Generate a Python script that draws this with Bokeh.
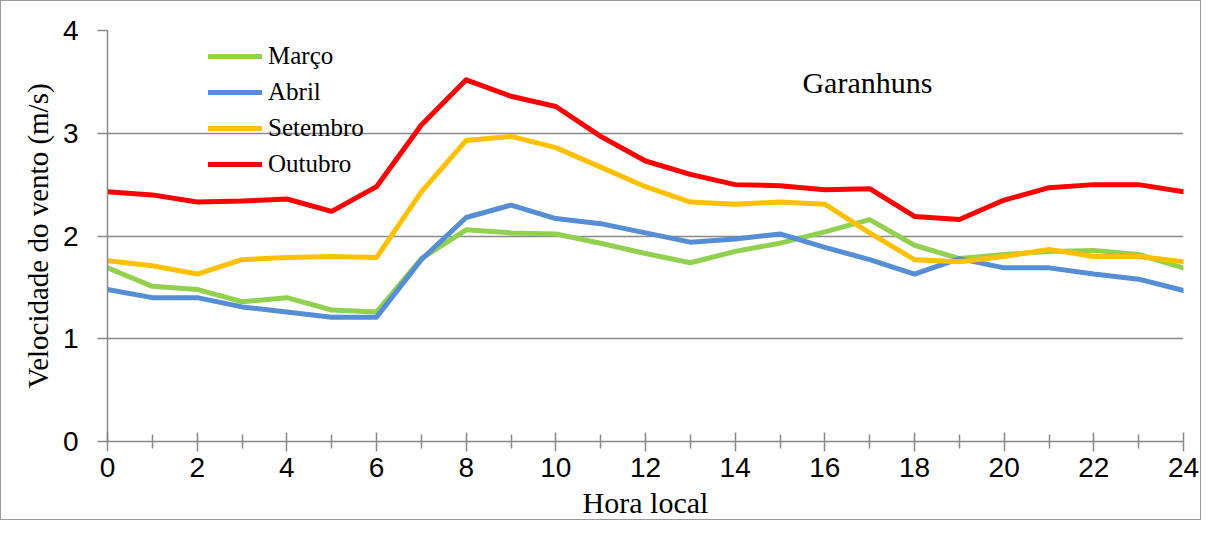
from bokeh.plotting import figure
from bokeh.models import FixedTicker, Legend, LegendItem, Label, ColumnDataSource
from bokeh.embed import file_html
from bokeh.resources import INLINE

hours = list(range(25))
marco = [1.69, 1.51, 1.48, 1.36, 1.40, 1.28, 1.26, 1.78, 2.06, 2.03, 2.02, 1.93, 1.83,
         1.74, 1.85, 1.93, 2.04, 2.16, 1.91, 1.78, 1.82, 1.85, 1.86, 1.82, 1.69]
abril = [1.48, 1.40, 1.40, 1.31, 1.26, 1.21, 1.21, 1.77, 2.18, 2.30, 2.17, 2.12, 2.03,
         1.94, 1.97, 2.02, 1.89, 1.77, 1.63, 1.78, 1.69, 1.69, 1.63, 1.58, 1.47]
setembro = [1.76, 1.71, 1.63, 1.77, 1.79, 1.80, 1.79, 2.43, 2.93, 2.97, 2.86, 2.67, 2.48,
            2.33, 2.31, 2.33, 2.31, 2.03, 1.77, 1.75, 1.80, 1.87, 1.80, 1.80, 1.75]
outubro = [2.43, 2.40, 2.33, 2.34, 2.36, 2.24, 2.48, 3.08, 3.52, 3.36, 3.26, 2.97, 2.73,
           2.60, 2.50, 2.49, 2.45, 2.46, 2.19, 2.16, 2.35, 2.47, 2.50, 2.50, 2.43]

series_names = ["Março", "Abril", "Setembro", "Outubro"]
series_values = [marco, abril, setembro, outubro]
colors = ["#92D050", "#558ED5", "#FFC000", "#FF0000"]

x_major = list(range(0, 25, 2))
x_minor = list(range(1, 24, 2))
y_ticks = [0, 1, 2, 3, 4]

station = "Garanhuns"
x_title = "Hora local"
y_title = "Velocidade do vento (m/s)"

GRAY = "#898989"
SERIF = "Liberation Serif"
SANS = "Liberation Sans"

p = figure(width=1201, height=520, output_backend="svg", toolbar_location=None,
           x_range=(0, 24), y_range=(0, 4),
           min_border_left=106, min_border_right=19, min_border_top=29, min_border_bottom=79)
p.styles = {"border": "1px solid #999999"}
p.outline_line_color = None
p.background_fill_color = "white"
p.border_fill_color = "white"

# grid
p.xgrid.grid_line_color = None
p.ygrid.grid_line_color = GRAY
p.ygrid.grid_line_width = 1.5
p.ygrid.ticker = FixedTicker(ticks=y_ticks)

# x axis
xa = p.xaxis[0]
xa.ticker = FixedTicker(ticks=x_major, minor_ticks=x_minor)
xa.axis_line_color = GRAY
xa.axis_line_width = 1.5
xa.major_tick_line_color = GRAY
xa.major_tick_line_width = 1.5
xa.minor_tick_line_color = GRAY
xa.minor_tick_line_width = 1.5
xa.major_tick_in = 9
xa.major_tick_out = 10
xa.minor_tick_in = 7
xa.minor_tick_out = 7
xa.major_label_text_font = SANS
xa.major_label_text_font_size = "28px"
xa.major_label_text_color = "black"
xa.major_label_standoff = 6
xa.axis_label = x_title
xa.axis_label_text_font = SERIF
xa.axis_label_text_font_style = "normal"
xa.axis_label_text_font_size = "30px"
xa.axis_label_text_color = "black"
xa.axis_label_standoff = 6

# y axis
ya = p.yaxis[0]
ya.ticker = FixedTicker(ticks=y_ticks)
ya.axis_line_color = GRAY
ya.axis_line_width = 1.5
ya.major_tick_line_color = GRAY
ya.major_tick_line_width = 1.5
ya.major_tick_in = 0
ya.major_tick_out = 10
ya.minor_tick_line_color = None
ya.major_label_text_font = SANS
ya.major_label_text_font_size = "28px"
ya.major_label_text_color = "black"
ya.major_label_standoff = 19
ya.axis_label = y_title
ya.axis_label_text_font = SERIF
ya.axis_label_text_font_style = "normal"
ya.axis_label_text_font_size = "29px"
ya.axis_label_text_color = "black"
ya.axis_label_standoff = 6

items = []
for name, vals, col in zip(series_names, series_values, colors):
    src = ColumnDataSource(dict(x=hours, y=vals))
    r = p.line("x", "y", source=src, line_color=col, line_width=5,
               line_join="round", line_cap="round")
    items.append(LegendItem(label=name, renderers=[r]))

legend = Legend(items=items, location=(101, 259), orientation="vertical",
                glyph_width=54, glyph_height=36, label_height=36, spacing=0,
                padding=0, margin=0, label_standoff=6,
                label_text_font=SERIF, label_text_font_size="25px",
                label_text_color="black", border_line_color=None,
                background_fill_alpha=0)
p.add_layout(legend, "center")

p.add_layout(Label(x=15.5, y=3.49, text=station, text_font=SERIF,
                   text_font_size="30px", text_color="black",
                   text_baseline="middle", text_align="left"))

open("out.html", "w").write(file_html(p, INLINE))
